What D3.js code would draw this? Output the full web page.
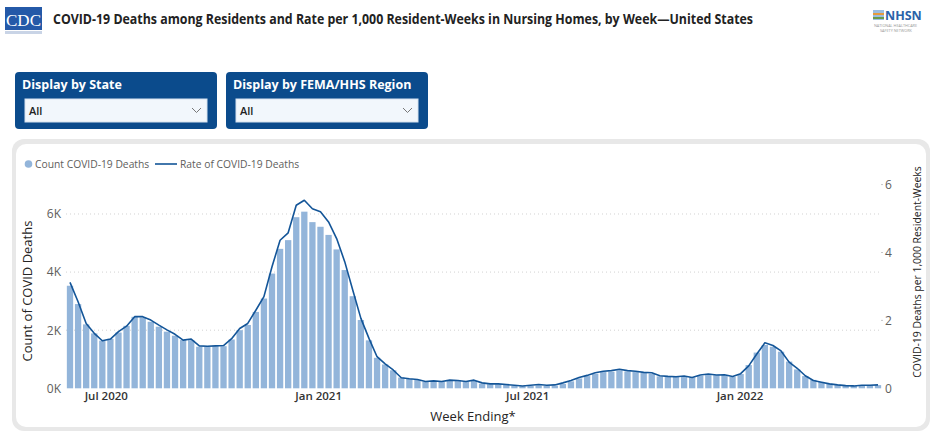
<!DOCTYPE html>
<html>
<head>
  <meta charset="utf-8">
  <script src="https://d3js.org/d3.v7.min.js"></script>
  <style>
    body { margin: 0; background: #fff; }
    svg text { font-family: "Segoe UI", "Open Sans", sans-serif; }
  </style>
</head>
<body>
<script>
  "use strict";

  // week ending dates (Sunday)
  var weeks = [
    "2020-05-31","2020-06-07","2020-06-14","2020-06-21","2020-06-28","2020-07-05","2020-07-12","2020-07-19","2020-07-26",
    "2020-08-02","2020-08-09","2020-08-16","2020-08-23","2020-08-30","2020-09-06","2020-09-13","2020-09-20","2020-09-27",
    "2020-10-04","2020-10-11","2020-10-18","2020-10-25","2020-11-01","2020-11-08","2020-11-15","2020-11-22","2020-11-29",
    "2020-12-06","2020-12-13","2020-12-20","2020-12-27","2021-01-03","2021-01-10","2021-01-17","2021-01-24","2021-01-31",
    "2021-02-07","2021-02-14","2021-02-21","2021-02-28","2021-03-07","2021-03-14","2021-03-21","2021-03-28","2021-04-04",
    "2021-04-11","2021-04-18","2021-04-25","2021-05-02","2021-05-09","2021-05-16","2021-05-23","2021-05-30","2021-06-06",
    "2021-06-13","2021-06-20","2021-06-27","2021-07-04","2021-07-11","2021-07-18","2021-07-25","2021-08-01","2021-08-08",
    "2021-08-15","2021-08-22","2021-08-29","2021-09-05","2021-09-12","2021-09-19","2021-09-26","2021-10-03","2021-10-10",
    "2021-10-17","2021-10-24","2021-10-31","2021-11-07","2021-11-14","2021-11-21","2021-11-28","2021-12-05","2021-12-12",
    "2021-12-19","2021-12-26","2022-01-02","2022-01-09","2022-01-16","2022-01-23","2022-01-30","2022-02-06","2022-02-13",
    "2022-02-20","2022-02-27","2022-03-06","2022-03-13","2022-03-20","2022-03-27","2022-04-03","2022-04-10","2022-04-17",
    "2022-04-24","2022-05-01"
  ];

  // Count COVID-19 Deaths
  var deaths = [
    3530, 2900, 2200, 1890, 1640, 1700, 1920, 2150, 2460, 2440, 2290, 2120, 1950, 1810, 1660, 1660, 1430, 1430, 1450, 1450,
    1680, 2000, 2180, 2630, 3090, 3950, 4800, 5100, 5890, 6080, 5720, 5560, 5280, 4780, 4070, 3170, 2350, 1650, 1050, 820,
    620, 370, 320, 290, 230, 250, 230, 270, 260, 230, 250, 160, 140, 140, 120, 90, 70, 80, 100, 80,
    90, 150, 240, 340, 420, 500, 560, 570, 620, 580, 560, 530, 500, 410, 390, 400, 400, 380, 430, 480,
    450, 460, 400, 490, 800, 1230, 1490, 1430, 1260, 920, 650, 420, 290, 220, 150, 110, 100, 80, 100, 100, 110
  ];

  // Rate of COVID-19 Deaths per 1,000 resident-weeks
  var rates = [
    3.12, 2.55, 1.91, 1.62, 1.40, 1.45, 1.67, 1.83, 2.11, 2.11, 2.01, 1.86, 1.72, 1.59, 1.42, 1.45, 1.25, 1.24, 1.25, 1.26,
    1.46, 1.76, 1.91, 2.30, 2.70, 3.58, 4.36, 4.58, 5.39, 5.54, 5.29, 5.20, 4.90, 4.41, 3.73, 2.89, 2.06, 1.47, 0.93, 0.72,
    0.54, 0.31, 0.28, 0.26, 0.20, 0.22, 0.20, 0.24, 0.23, 0.20, 0.24, 0.16, 0.13, 0.13, 0.11, 0.09, 0.07, 0.09, 0.11, 0.09,
    0.10, 0.16, 0.23, 0.32, 0.38, 0.46, 0.50, 0.52, 0.56, 0.52, 0.50, 0.47, 0.46, 0.37, 0.35, 0.34, 0.36, 0.32, 0.39, 0.42,
    0.39, 0.40, 0.35, 0.43, 0.66, 1.01, 1.34, 1.26, 1.10, 0.77, 0.59, 0.37, 0.23, 0.18, 0.13, 0.10, 0.08, 0.07, 0.09, 0.09, 0.10
  ];

  var leftTicks = [0, 2000, 4000, 6000];
  var rightTicks = [0, 2, 4, 6];
  var xTickDates = ["2020-07-01", "2021-01-01", "2021-07-01", "2022-01-01"];
  var filters = ["Display by State", "Display by FEMA/HHS Region"];

  var W = 936, H = 438;
  var parse = d3.timeParse("%Y-%m-%d");
  var data = weeks.map(function (w, i) {
    return { date: parse(w), deaths: deaths[i], rate: rates[i] };
  });

  var svg = d3.select("body").append("svg")
      .attr("width", W).attr("height", H);

  /*
    Header
  */
  var logo = svg.append("g");
  logo.append("rect").attr("x", 5).attr("y", 7).attr("width", 37).attr("height", 23)
      .attr("fill", "#2459a8");
  logo.append("text").attr("x", 23.5).attr("y", 25.5).attr("text-anchor", "middle")
      .style("font-family", "'Liberation Serif', serif").style("font-size", "17px")
      .attr("fill", "#fff").text("CDC");
  logo.append("rect").attr("x", 5).attr("y", 31).attr("width", 37).attr("height", 3)
      .attr("fill", "#c9d4e6");

  svg.append("text")
      .attr("x", 53).attr("y", 24)
      .attr("textLength", 700).attr("lengthAdjust", "spacingAndGlyphs")
      .style("font-size", "14.5px").style("font-weight", "700")
      .attr("fill", "#222")
      .text("COVID-19 Deaths among Residents and Rate per 1,000 Resident-Weeks in Nursing Homes, by Week\u2014United States");

  var nh = svg.append("g");
  nh.append("rect").attr("x", 873).attr("y", 10).attr("width", 11).attr("height", 10).attr("fill", "#9bbde0");
  nh.append("rect").attr("x", 873).attr("y", 13).attr("width", 11).attr("height", 2).attr("fill", "#e69a3c");
  nh.append("rect").attr("x", 873).attr("y", 17).attr("width", 11).attr("height", 2).attr("fill", "#6a9a4a");
  nh.append("text").attr("x", 885).attr("y", 20).style("font-size", "12.5px").style("font-weight", "700")
      .attr("fill", "#2b62a8").text("NHSN");
  nh.append("text").attr("x", 874).attr("y", 26.5).style("font-size", "3.8px").attr("fill", "#999")
      .text("NATIONAL HEALTHCARE");
  nh.append("text").attr("x", 880).attr("y", 32).style("font-size", "3.8px").attr("fill", "#999")
      .text("SAFETY NETWORK");

  /*
    Slicer boxes
  */
  filters.forEach(function (label, i) {
    var x0 = 15 + i * 211;
    var g = svg.append("g");
    g.append("rect").attr("x", x0).attr("y", 72).attr("width", 202).attr("height", 57)
        .attr("rx", 4).attr("fill", "#0b4b8c");
    g.append("text").attr("x", x0 + 7).attr("y", 88.5)
        .style("font-size", "12.5px").style("font-weight", "700").attr("fill", "#fff").text(label);
    g.append("rect").attr("x", x0 + 10).attr("y", 99).attr("width", 182).attr("height", 23)
        .attr("fill", "#f2f7fc").attr("stroke", "#d5e2ef");
    g.append("text").attr("x", x0 + 14).attr("y", 115)
        .style("font-size", "11px").style("font-weight", "600").attr("fill", "#222").text("All");
    g.append("path")
        .attr("d", "M" + (x0 + 177) + ",108 l4.5,4.5 l4.5,-4.5")
        .attr("fill", "none").attr("stroke", "#777").attr("stroke-width", 1);
  });

  /*
    Card
  */
  svg.append("rect").attr("x", 12).attr("y", 139).attr("width", 918).attr("height", 292)
      .attr("rx", 12).attr("fill", "#e8e8e8");
  svg.append("rect").attr("x", 16).attr("y", 144).attr("width", 910).attr("height", 283)
      .attr("rx", 10).attr("fill", "#fff");

  /*
    Scales
  */
  var x = d3.scaleTime()
      .domain([data[0].date, data[data.length - 1].date])
      .range([70, 878]);
  var step = (x.range()[1] - x.range()[0]) / (data.length - 1);
  var barW = step * 0.78;

  var yL = d3.scaleLinear().domain([0, 7170]).range([388.3, 180]);
  var yR = d3.scaleLinear().domain([0, 6.135]).range([388.3, 180]);

  // gridlines
  svg.append("g").selectAll("line")
      .data(leftTicks.slice(1))
      .enter().append("line")
      .attr("x1", 66).attr("x2", 881)
      .attr("y1", function (d) { return yL(d); })
      .attr("y2", function (d) { return yL(d); })
      .attr("stroke", "#d2d2d2").attr("stroke-width", 1)
      .attr("stroke-dasharray", "1,3");

  // bars
  svg.append("g").selectAll("rect")
      .data(data)
      .enter().append("rect")
      .attr("x", function (d) { return x(d.date) - barW / 2; })
      .attr("width", barW)
      .attr("y", function (d) { return yL(d.deaths); })
      .attr("height", function (d) { return yL(0) - yL(d.deaths); })
      .attr("fill", "#93b5da");

  // rate line
  var line = d3.line()
      .x(function (d) { return x(d.date); })
      .y(function (d) { return yR(d.rate); });
  svg.append("path").datum(data)
      .attr("d", line)
      .attr("fill", "none").attr("stroke", "#135598").attr("stroke-width", 1.6)
      .attr("stroke-linejoin", "round");

  /*
    Axes
  */
  var axL = svg.append("g").attr("transform", "translate(61,0)")
      .call(d3.axisLeft(yL).tickValues(leftTicks).tickSize(0).tickPadding(0)
        .tickFormat(function (d) { return (d / 1000) + "K"; }));
  var axR = svg.append("g").attr("transform", "translate(885,0)")
      .call(d3.axisRight(yR).tickValues(rightTicks).tickSize(0).tickPadding(0)
        .tickFormat(d3.format("d")));
  var axX = svg.append("g").attr("transform", "translate(0,392)")
      .call(d3.axisBottom(x).tickValues(xTickDates.map(parse)).tickSize(0).tickPadding(0)
        .tickFormat(d3.timeFormat("%b %Y")));

  [axL, axR, axX].forEach(function (a) {
    a.select(".domain").remove();
    a.selectAll("text").style("font-family", "'Segoe UI', 'Open Sans', sans-serif");
  });
  axL.selectAll("text").style("font-size", "12px").attr("fill", "#605e5c");
  axR.selectAll("text").style("font-size", "12px").attr("fill", "#605e5c");
  axX.selectAll("text").style("font-size", "11.5px").style("font-weight", "600").attr("fill", "#333");

  // small right-side tick dots
  svg.append("g").selectAll("line")
      .data(rightTicks.slice(1))
      .enter().append("line")
      .attr("x1", 881).attr("x2", 883)
      .attr("y1", function (d) { return yR(d); })
      .attr("y2", function (d) { return yR(d); })
      .attr("stroke", "#c8c8c8");

  // axis titles
  svg.append("text")
      .attr("transform", "translate(32,291) rotate(-90)")
      .attr("text-anchor", "middle")
      .style("font-size", "13px").attr("fill", "#252423")
      .text("Count of COVID Deaths");
  svg.append("text")
      .attr("transform", "translate(921,272) rotate(-90)")
      .attr("text-anchor", "middle")
      .style("font-size", "10.4px").attr("fill", "#252423")
      .text("COVID-19 Deaths per 1,000 Resident-Weeks");
  svg.append("text")
      .attr("x", 473).attr("y", 421)
      .attr("text-anchor", "middle")
      .style("font-size", "13px").attr("fill", "#252423")
      .text("Week Ending*");

  /*
    Legend
  */
  var lg = svg.append("g");
  lg.append("circle").attr("cx", 28.5).attr("cy", 164).attr("r", 3.8).attr("fill", "#93b5da");
  lg.append("text").attr("x", 35).attr("y", 167.5).style("font-size", "10.3px").attr("fill", "#605e5c")
      .text("Count COVID-19 Deaths");
  lg.append("line").attr("x1", 155).attr("x2", 177).attr("y1", 164).attr("y2", 164)
      .attr("stroke", "#135598").attr("stroke-width", 1.6);
  lg.append("text").attr("x", 180).attr("y", 167.5).style("font-size", "10.3px").attr("fill", "#605e5c")
      .text("Rate of COVID-19 Deaths");
</script>
</body>
</html>
